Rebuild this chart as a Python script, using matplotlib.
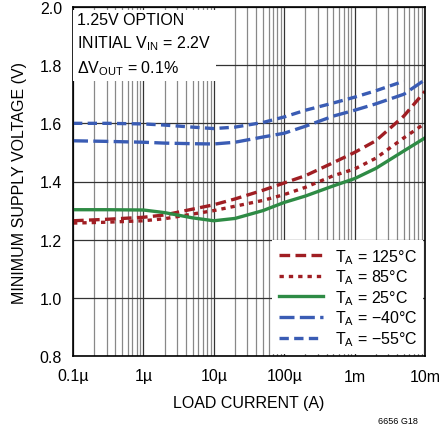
import matplotlib
matplotlib.use('Agg')
import matplotlib.pyplot as plt
import matplotlib.font_manager as fm

names = {f.name for f in fm.fontManager.ttflist}
FONT = 'Liberation Sans Narrow' if 'Liberation Sans Narrow' in names else 'Liberation Sans'
plt.rcParams['font.family'] = [FONT, 'DejaVu Sans']
plt.rcParams['mathtext.fontset'] = 'custom'
plt.rcParams['mathtext.rm'] = FONT
plt.rcParams['mathtext.it'] = FONT

# load current (A)
current = [1e-7, 3e-7, 1e-6, 2e-6, 5e-6, 1e-5, 2e-5, 5e-5, 1e-4, 2e-4, 5e-4, 1e-3, 2e-3, 5e-3, 1e-2]
v_125 = [1.265, 1.27, 1.277, 1.285, 1.305, 1.32, 1.34, 1.37, 1.395, 1.42, 1.465, 1.50, 1.54, 1.625, 1.71]
v_85 = [1.257, 1.26, 1.265, 1.272, 1.288, 1.30, 1.315, 1.335, 1.355, 1.38, 1.42, 1.443, 1.48, 1.55, 1.60]
v_25 = [1.303, 1.303, 1.302, 1.293, 1.275, 1.265, 1.273, 1.30, 1.328, 1.35, 1.385, 1.41, 1.445, 1.505, 1.55]
v_m40 = [1.54, 1.538, 1.535, 1.532, 1.53, 1.529, 1.535, 1.553, 1.566, 1.59, 1.625, 1.645, 1.667, 1.70, 1.75]
current_m55 = current[:-1]
v_m55 = [1.60, 1.60, 1.598, 1.594, 1.587, 1.582, 1.587, 1.603, 1.622, 1.645, 1.67, 1.69, 1.712, 1.745]

xticks = [1e-7, 1e-6, 1e-5, 1e-4, 1e-3, 1e-2]
xticklabels = ['0.1µ', '1µ', '10µ', '100µ', '1m', '10m']
yticks = [0.8, 1.0, 1.2, 1.4, 1.6, 1.8, 2.0]

red = '#a01e23'
green = '#2e8b45'
blue = '#3a5cb4'

fig = plt.figure(figsize=(4.41, 4.27), dpi=100)
ax = fig.add_axes([73/441, 1-357/427, 352/441, 349/427])

lw = 2.4
ax.plot(current, v_125, color=red, lw=lw, dashes=(3.2, 1.6), label=r'T$_\mathrm{A}$ = 125°C')
ax.plot(current, v_85, color=red, lw=lw, dashes=(1.3, 1.5), label=r'T$_\mathrm{A}$ = 85°C')
ax.plot(current, v_25, color=green, lw=lw, label=r'T$_\mathrm{A}$ = 25°C')
ax.plot(current, v_m40, color=blue, lw=lw, dashes=(4.5, 1.6), label=r'T$_\mathrm{A}$ = −40°C')
ax.plot(current_m55, v_m55, color=blue, lw=lw, dashes=(2.8, 1.6), label=r'T$_\mathrm{A}$ = −55°C')

ax.set_xscale('log')
ax.set_xlim(1e-7, 1e-2)
ax.set_ylim(0.8, 2.0)
ax.set_xticks(xticks)
ax.set_xticklabels(xticklabels)
ax.set_yticks(yticks)
ax.set_yticklabels(['%.1f' % v for v in yticks])
ax.tick_params(axis='x', labelsize=11.5, length=0, pad=9)
ax.tick_params(axis='y', labelsize=11.5, length=0, pad=8)
ax.tick_params(which='minor', length=0)

ax.grid(True, which='major', color='#333333', lw=0.9)
ax.grid(True, which='minor', axis='x', color='#888888', lw=0.9)
for s in ax.spines.values():
    s.set_linewidth(1.2)

ax.set_xlabel('LOAD CURRENT (A)', fontsize=11.5, labelpad=8)
ax.set_ylabel('MINIMUM SUPPLY VOLTAGE (V)', fontsize=11.5, labelpad=9)

ax.text(0.012, 0.985,
        '1.25V OPTION\nINITIAL V$_\\mathrm{IN}$ = 2.2V\nΔV$_\\mathrm{OUT}$ = 0.1%',
        transform=ax.transAxes, ha='left', va='top', fontsize=11.5, linespacing=1.45,
        bbox=dict(facecolor='white', edgecolor='none', pad=3), zorder=5)

leg = ax.legend(loc='lower right', fontsize=11.5, handlelength=2.8, frameon=True,
                fancybox=False, framealpha=1, edgecolor='none', borderaxespad=0.1,
                labelspacing=0.12, handletextpad=0.7)
leg.set_zorder(6)

fig.text(418/441, 1-422/427, '6656 G18', fontsize=6.5, ha='right', va='center')

fig.savefig('out.png', dpi=100)
